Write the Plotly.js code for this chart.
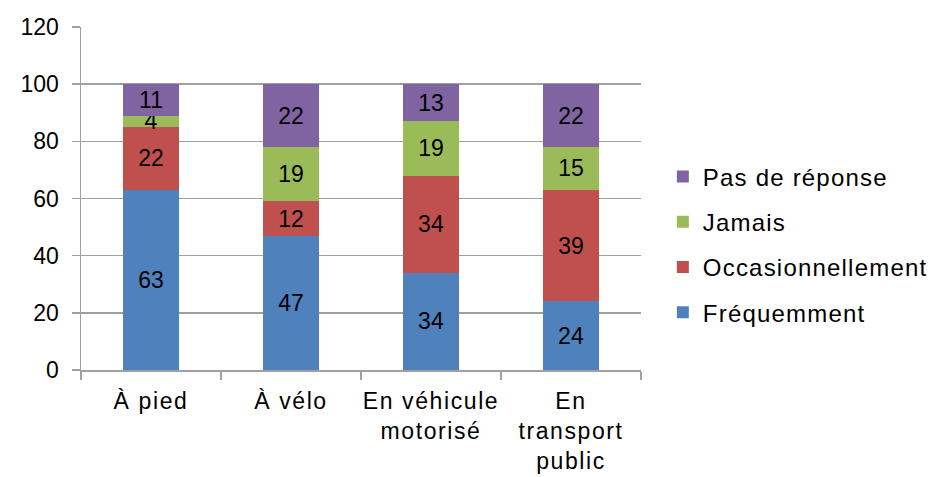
<!DOCTYPE html>
<html>
<head>
<meta charset="utf-8">
<script src="https://cdn.plot.ly/plotly-3.0.1.min.js"></script>
<style>
html,body{margin:0;padding:0;background:#fff;}
#chart{width:936px;height:477px;}
.legendtext {letter-spacing: 1.2px;}
.xtick text {letter-spacing: 1.6px;}
</style>
</head>
<body>
<div id="chart"></div>
<script>
const categories = ["À pied", "À vélo", "En véhicule<br>motorisé", "En<br>transport<br>public"];
const seriesNames = ["Fréquemment", "Occasionnellement", "Jamais", "Pas de réponse"];
const frequemment = [63, 47, 34, 24];
const occasionnellement = [22, 12, 34, 39];
const jamais = [4, 19, 19, 15];
const pasDeReponse = [11, 22, 13, 22];
const yTicks = [0, 20, 40, 60, 80, 100, 120];

const colors = ["#4F81BD", "#C0504D", "#9BBB59", "#8064A2"];
const values = [frequemment, occasionnellement, jamais, pasDeReponse];
const FONT = "Liberation Sans, Arial, sans-serif";

const traces = values.map((v, i) => ({
  type: "bar",
  name: seriesNames[i],
  x: categories,
  y: v,
  text: v.map(String),
  textposition: "inside",
  insidetextanchor: "middle",
  textangle: 0,
  constraintext: "none",
  textfont: {family: FONT, size: 23, color: "#000"},
  marker: {color: colors[i], line: {width: 0}},
  legendgroup: "g" + i,
  legendrank: 10 - i,
  hoverinfo: "x+y+name"
}));

const layout = {
  width: 936, height: 477,
  margin: {l: 81, r: 295, t: 27, b: 107, autoexpand: false},
  barmode: "stack",
  bargap: 0.593,
  paper_bgcolor: "#fff",
  plot_bgcolor: "#fff",
  font: {family: FONT, size: 23, color: "#000"},
  showlegend: true,
  legend: {
    x: 1.039, xanchor: "left", xref: "paper",
    y: 0.366, yanchor: "middle",
    traceorder: "grouped",
    tracegroupgap: 11,
    font: {family: FONT, size: 24, color: "#000"},
    bgcolor: "rgba(0,0,0,0)"
  },
  xaxis: {
    type: "category",
    showline: true, linecolor: "#A0A0A0", linewidth: 1.5,
    ticks: "outside", tickson: "boundaries", ticklen: 8, tickcolor: "#A0A0A0", tickwidth: 1.5,
    showgrid: false,
    ticklabelstandoff: 10,
    tickfont: {family: FONT, size: 23, color: "#000"}
  },
  yaxis: {
    range: [0, 120],
    tickvals: yTicks,
    ticktext: yTicks.map(String),
    showline: true, linecolor: "#A0A0A0", linewidth: 1.5,
    ticks: "outside", ticklen: 8, tickcolor: "#A0A0A0", tickwidth: 1.5,
    showgrid: true, gridcolor: "#A0A0A0", gridwidth: 1.5,
    zeroline: false,
    ticklabelstandoff: 8,
    tickfont: {family: FONT, size: 23, color: "#000"}
  }
};

Plotly.newPlot("chart", traces, layout, {displayModeBar: false, staticPlot: true});
</script>
</body>
</html>
